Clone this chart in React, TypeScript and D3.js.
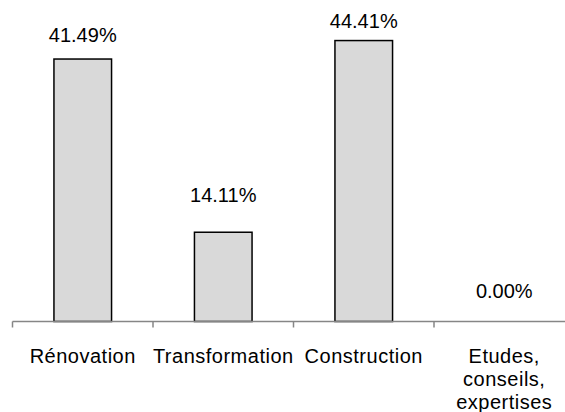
import React from "react";
import * as d3 from "d3";

// Share of activity by category (%)
const categories: string[][] = [
  ["Rénovation"],
  ["Transformation"],
  ["Construction"],
  ["Etudes,", "conseils,", "expertises"],
];
const shares: number[] = [41.49, 14.11, 44.41, 0.0];
// Hand-placed data-label lift above each bar top (px)
const labelLift: number[] = [17, 30, 13, 24];

const W = 565;
const H = 412;
const FONT = "'Liberation Sans', Arial, sans-serif";

export default function App() {
  const plotLeft = 12.5;
  const plotRight = 574.5;
  const axisY = 321.5;

  const x = d3
    .scaleBand<number>()
    .domain(d3.range(categories.length))
    .range([plotLeft, plotRight])
    .padding(0);

  const y = d3.scaleLinear().domain([0, 50]).range([axisY, axisY - 316.3]);

  const barW = x.bandwidth() * 0.41;
  const tickXs = d3.range(categories.length + 1).map((i) => plotLeft + i * x.step());

  return (
    <svg
      width={W}
      height={H}
      style={{ position: "absolute", left: 0, top: 0, display: "block", background: "#fff" }}
    >
      {shares.map((v, i) => {
        const cx = (x(i) as number) + x.bandwidth() / 2;
        const top = y(v);
        return (
          <g key={i}>
            {v > 0 && (
              <rect
                x={cx - barW / 2}
                y={top}
                width={barW}
                height={axisY - top}
                fill="#d9d9d9"
                stroke="#000"
                strokeWidth={1.5}
              />
            )}
            <text
              x={cx}
              y={top - labelLift[i]}
              textAnchor="middle"
              fontFamily={FONT}
              fontSize={20}
              fill="#000"
            >
              {v.toFixed(2)}%
            </text>
          </g>
        );
      })}

      {/* category axis */}
      <line x1={plotLeft} x2={plotRight} y1={axisY} y2={axisY} stroke="#868686" strokeWidth={1.5} />
      {tickXs.map((tx, i) => (
        <line key={i} x1={tx} x2={tx} y1={axisY} y2={axisY + 6} stroke="#868686" strokeWidth={1.5} />
      ))}

      {categories.map((lines, i) => {
        const cx = (x(i) as number) + x.bandwidth() / 2;
        return (
          <text
            key={i}
            textAnchor="middle"
            fontFamily={FONT}
            fontSize={20}
            letterSpacing={0.5}
            fill="#000"
          >
            {lines.map((ln, j) => (
              <tspan key={j} x={cx} y={362.5 + j * 23}>
                {ln}
              </tspan>
            ))}
          </text>
        );
      })}
    </svg>
  );
}
